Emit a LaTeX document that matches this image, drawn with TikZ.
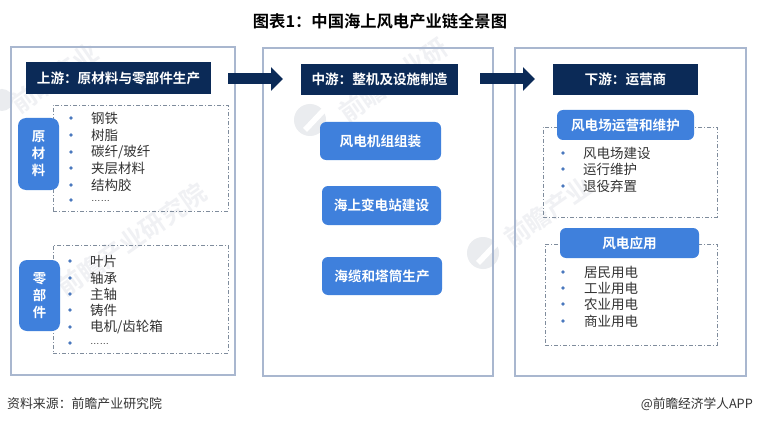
\documentclass[tikz,border=0pt]{standalone}
\usepackage{fontspec}
\setmainfont{Noto Sans CJK SC}[BoldFont={Noto Sans CJK SC Bold}]
\newfontfamily\dotsfont{Liberation Sans}
\usetikzlibrary{arrows.meta}
\newcommand{\fwc}{\char"FF1A\relax}
\definecolor{navy}{HTML}{0B2A57}
\definecolor{blueb}{HTML}{3F80DC}
\definecolor{panelc}{HTML}{A9B7CF}
\definecolor{dashc}{HTML}{7F8C9C}
\definecolor{bullc}{HTML}{4A78BE}
\definecolor{wm}{HTML}{F0F1F4}
\definecolor{wmlogo}{HTML}{EAECEF}
\definecolor{txt}{HTML}{333333}
\tikzset{
 x=1pt,y=-1pt,
 boxat/.style n args={4}{minimum width={(#3-#1)*1pt},minimum height={(#4-#2)*1pt},inner sep=0pt,anchor=center,at={({(#1+#3)/2},{(#2+#4)/2})}},
 panel/.style={draw=panelc,line width=1.2pt,fill=none},
 header/.style={fill=navy,text=white,font=\fontsize{13.6}{15}\selectfont\bfseries},
 bluebox/.style={fill=blueb,rounded corners=6pt,text=white,font=\fontsize{13.6}{15}\selectfont\bfseries},
 tagbox/.style={fill=blueb,rounded corners=8pt,text=white,align=center,font=\fontsize{13.4}{17}\selectfont\bfseries},
 dashbox/.style={draw=dashc,line width=.7pt,dash pattern=on 4pt off 2pt on 1pt off 2pt},
 item/.style={anchor=west,inner sep=0pt,text=txt,font=\fontsize{13.5}{15}\selectfont},
 bull/.style={circle,fill=bullc,minimum size=3.6pt,inner sep=0pt},
 bigarrow/.style={draw=navy,line width=11pt,-{Triangle[length=12pt,width=23pt]}},
 wmark/.style={text=wm,font=\fontsize{25}{27}\selectfont\bfseries,rotate=35,inner sep=0pt},
}
\begin{document}
\begin{tikzpicture}
\useasboundingbox (0,0) rectangle (760,425);
\fill[white] (0,0) rectangle (760,425);
% watermarks
\fill[wmlogo] (2,100) circle (11pt);
\fill[wmlogo] (310,120) circle (16pt);
\fill[wmlogo] (483,253) circle (16pt);
\fill[white] (303,128) -- (322,108) -- (326,112) -- (307,132) -- cycle;
\fill[white] (476,261) -- (495,241) -- (499,245) -- (480,265) -- cycle;
\node[wmark] (w1) at (55,78) {前瞻产业};
\node[wmark] (w2) at (132,240) {前瞻产业研究院};
\node[wmark] (w3) at (393,80) {前瞻产业研};
\node[wmark] (w4) at (548,212) {前瞻产业};
% panels
\node[panel,boxat={11}{47}{235}{375}] (p1) {};
\node[panel,boxat={263}{48}{493}{376}] (p2) {};
\node[panel,boxat={515}{48}{746}{376}] (p3) {};
% title
\node[font=\fontsize{16.3}{18}\selectfont\bfseries,text=black] (title) at (380,21) {图表1\fwc 中国海上风电产业链全景图};
% dashed
\node[dashbox,boxat={53}{105}{228}{211}] (d1) {};
\node[dashbox,boxat={53}{245}{228}{353}] (d2) {};
\node[dashbox,boxat={543}{127}{717}{217}] (d3) {};
\node[dashbox,boxat={545}{244}{717}{345}] (d4) {};
% headers
\node[header,boxat={26}{62}{211}{94}] (h1) {上游\fwc 原材料与零部件生产};
\node[header,boxat={301}{64}{458}{95}] (h2) {中游\fwc 整机及设施制造};
\node[header,boxat={553}{64}{698}{95}] (h3) {下游\fwc 运营商};
% arrows
\coordinate (a1s) at (228,79); \coordinate (a1e) at (283,79);
\coordinate (a2s) at (480,79); \coordinate (a2e) at (535,79);
\draw[bigarrow] (a1s) -- (a1e);
\draw[bigarrow] (a2s) -- (a2e);
% tags
\node[tagbox,boxat={18}{118}{59}{190}] (t1) {原\\材\\料};
\node[tagbox,boxat={19}{260}{60}{331}] (t2) {零\\部\\件};
% blue boxes
\node[bluebox,boxat={320}{122}{441}{160}] (m1) {风电机组组装};
\node[bluebox,boxat={322}{186}{441}{225}] (m2) {海上变电站建设};
\node[bluebox,boxat={322}{257}{442}{295}] (m3) {海缆和塔筒生产};
\node[bluebox,boxat={557}{110}{694}{140}] (r1) {风电场运营和维护};
\node[bluebox,boxat={560}{228}{699}{258}] (r2) {风电应用};
% lists
\newcommand{\mydots}{{\dotsfont\fontsize{9.5}{11}\selectfont\raisebox{-2pt}{……}}}
\foreach \n/\y/\t in {a1/118/钢铁,a2/135/树脂,a3/152/{碳纤/玻纤},a4/168/夹层材料,a5/185/结构胶,a6/200/\mydots}{
 \node[bull] (b\n) at (71,\y) {};
 \node[item] (i\n) at (91,\y) {\t};
}
\foreach \n/\y/\t in {c1/261/叶片,c2/278/轴承,c3/294/主轴,c4/310/铸件,c5/327/{电机/齿轮箱},c6/343/\mydots}{
 \node[bull] (b\n) at (70,\y) {};
 \node[item] (i\n) at (90,\y) {\t};
}
\foreach \n/\y/\t in {e1/153/风电场建设,e2/169/运行维护,e3/186/退役弃置}{
 \node[bull] (b\n) at (563,\y) {};
 \node[item] (i\n) at (583,\y) {\t};
}
\foreach \n/\y/\t in {f1/272/居民用电,f2/288/工业用电,f3/304/农业用电,f4/321/商业用电}{
 \node[bull] (b\n) at (563,\y) {};
 \node[item] (i\n) at (584,\y) {\t};
}
% footer
\node[anchor=west,inner sep=0pt,text=txt,font=\fontsize{12.9}{14}\selectfont] (src) at (7,404) {资料来源\fwc 前瞻产业研究院};
\node[anchor=east,inner sep=0pt,text=txt,font=\fontsize{12.7}{14}\selectfont] (brand) at (753,404) {@前瞻经济学人APP};
\end{tikzpicture}
\end{document}
